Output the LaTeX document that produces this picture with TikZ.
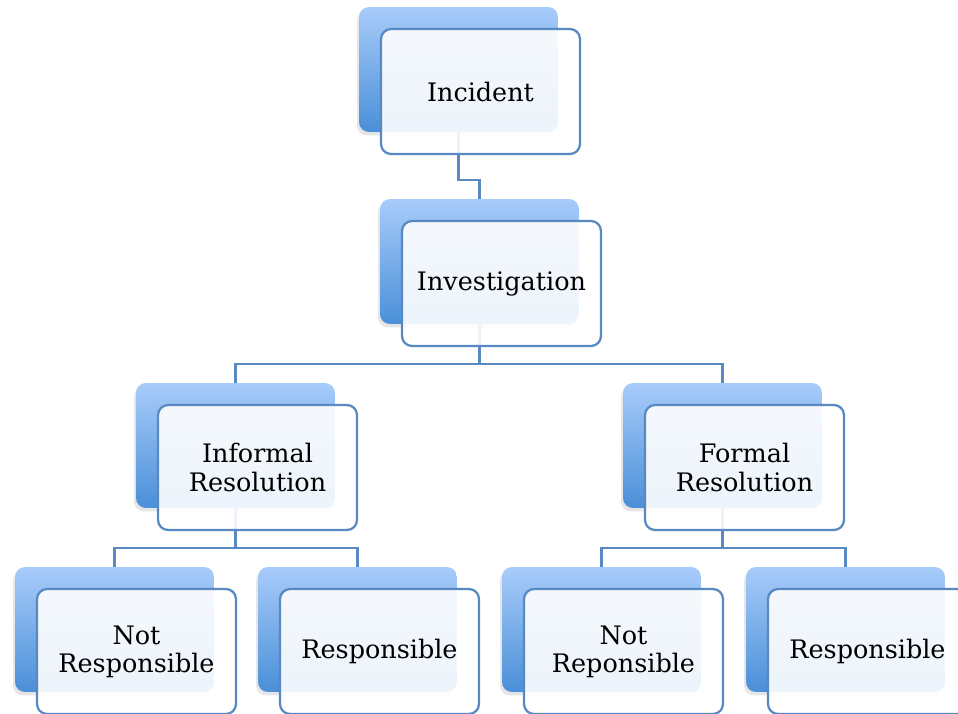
\documentclass[tikz,border=0pt]{standalone}
\usepackage{fontspec}
\setmainfont{DejaVu Serif}
\usetikzlibrary{shadows}

\definecolor{boxtop}{RGB}{168,204,250}
\definecolor{boxbot}{RGB}{74,143,216}
\definecolor{boxline}{RGB}{88,137,195}

\tikzset{
  backbox/.style={rectangle, rounded corners=0.2cm, minimum width=3.98cm, minimum height=2.5cm,
    inner sep=0pt, top color=boxtop, bottom color=boxbot,
    drop shadow={shadow xshift=-0.04cm, shadow yshift=-0.07cm, opacity=0.2}},
  frontbox/.style={rectangle, rounded corners=0.2cm, draw=boxline, line width=0.045cm,
    fill=white, fill opacity=0.9, text opacity=1, minimum width=3.98cm, minimum height=2.5cm,
    inner sep=0pt, align=center, font=\fontsize{14.5}{16}\selectfont},
  link/.style={draw=boxline, line width=0.045cm}
}

\begin{document}
\begin{tikzpicture}[x=0.02cm,y=-0.02cm]
\useasboundingbox (0,0) rectangle (958,714);
\clip (0,0) rectangle (958,714);

\node[backbox] (incB) at (458.5,69.5) {};
\node[backbox] (invB) at (479.5,261.5) {};
\node[backbox] (infB) at (235.5,445.5) {};
\node[backbox] (forB) at (722.5,445.5) {};
\node[backbox] (infNotB) at (114.5,629.5) {};
\node[backbox] (infRespB) at (357.5,629.5) {};
\node[backbox] (forNotB) at (601.5,629.5) {};
\node[backbox] (forRespB) at (845.5,629.5) {};

\draw[link] (incB.south) |- ([yshift=0.38cm]invB.north) -- (invB.north);
\draw[link] (invB.south) |- ([yshift=0.38cm]infB.north) -- (infB.north);
\draw[link] (invB.south) |- ([yshift=0.38cm]forB.north) -- (forB.north);
\draw[link] (infB.south) |- ([yshift=0.38cm]infNotB.north) -- (infNotB.north);
\draw[link] (infB.south) |- ([yshift=0.38cm]infRespB.north) -- (infRespB.north);
\draw[link] (forB.south) |- ([yshift=0.38cm]forNotB.north) -- (forNotB.north);
\draw[link] (forB.south) |- ([yshift=0.38cm]forRespB.north) -- (forRespB.north);

\node[frontbox] (incF) at (480.5,91.5) {Incident};
\node[frontbox] (invF) at (501.5,283.5) {Investigation};
\node[frontbox] (infF) at (257.5,467.5) {Informal\\Resolution};
\node[frontbox] (forF) at (744.5,467.5) {Formal\\Resolution};
\node[frontbox] (infNotF) at (136.5,651.5) {Not\\Responsible};
\node[frontbox] (infRespF) at (379.5,651.5) {Responsible};
\node[frontbox] (forNotF) at (623.5,651.5) {Not\\Reponsible};
\node[frontbox] (forRespF) at (867.5,651.5) {Responsible};
\end{tikzpicture}
\end{document}
